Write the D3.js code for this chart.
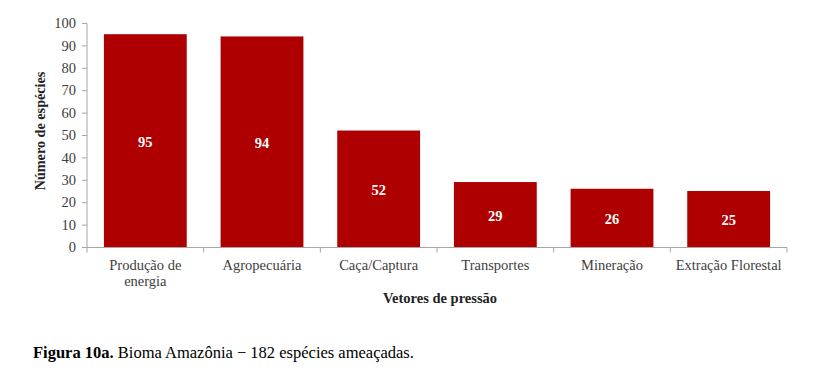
<!DOCTYPE html>
<html><head><meta charset="utf-8">
<script src="https://cdn.jsdelivr.net/npm/d3@7"></script>
<style>body{margin:0;background:#fff;}svg{display:block;} svg text{font-family:"Liberation Serif","Times New Roman","DejaVu Serif",serif;}</style>
</head><body>
<script>
const categories = ["Produção de energia","Agropecuária","Caça/Captura","Transportes","Mineração","Extração Florestal"];
const categoryLines = [["Produção de","energia"],["Agropecuária"],["Caça/Captura"],["Transportes"],["Mineração"],["Extração Florestal"]];
const values = [95,94,52,29,26,25];
const yTicks = [0,10,20,30,40,50,60,70,80,90,100];
const yTitle = "Número de espécies";
const xTitle = "Vetores de pressão";

const W=821,H=377;
const svg=d3.select("body").append("svg").attr("width",W).attr("height",H);
const x=d3.scaleBand().domain(categories).range([87,787]).paddingInner(0.29).paddingOuter(0.145);
const y=d3.scaleLinear().domain([0,100]).range([247,23]);
const axisCol="#a6a6a6";

// y axis
const ya=svg.append("g").attr("transform","translate(87,0)")
 .call(d3.axisLeft(y).tickValues(yTicks).tickSize(5).tickPadding(6));
ya.attr("font-family",null);
ya.select(".domain").attr("stroke",axisCol).attr("d","M-5,23.5H0V247.5H-5");
ya.selectAll(".tick line").attr("stroke",axisCol);
ya.selectAll(".tick text").attr("font-size",14.5).attr("fill","#404040");

// bars
svg.append("g").selectAll("rect").data(values).join("rect")
 .attr("x",(d,i)=>x(categories[i])).attr("width",x.bandwidth())
 .attr("y",d=>y(d)).attr("height",d=>y(0)-y(d)).attr("fill","#ae0000");
svg.append("g").selectAll("text").data(values).join("text")
 .attr("x",(d,i)=>x(categories[i])+x.bandwidth()/2)
 .attr("y",d=>(y(d)+y(0))/2+1).attr("dy","0.35em")
 .attr("text-anchor","middle").attr("font-weight","bold")
 .attr("font-size",14.5).attr("fill","#fff").text(d=>d);

// x axis
const xg=svg.append("g");
xg.append("line").attr("x1",87).attr("x2",787).attr("y1",247.5).attr("y2",247.5).attr("stroke",axisCol);
xg.selectAll("line.t").data(d3.range(categories.length+1)).join("line").attr("class","t")
 .attr("x1",i=>87+i*(700/categories.length)).attr("x2",i=>87+i*(700/categories.length))
 .attr("y1",247.5).attr("y2",252.5).attr("stroke",axisCol);
const lab=xg.selectAll("text").data(categories).join("text")
 .attr("x",d=>x(d)+x.bandwidth()/2).attr("y",270)
 .attr("text-anchor","middle").attr("font-size",14.5).attr("fill","#404040");
lab.each(function(d,i){
  const t=d3.select(this);
  categoryLines[i].forEach((l,j)=>t.append("tspan").attr("x",x(d)+x.bandwidth()/2).attr("dy",j?16:0).text(l));
});

// titles
svg.append("text").attr("x",440).attr("y",303).attr("text-anchor","middle")
 .attr("font-weight","bold").attr("font-size",14.5).attr("fill","#222").text(xTitle);
svg.append("text").attr("transform","translate(45,131) rotate(-90)").attr("text-anchor","middle")
 .attr("font-weight","bold").attr("font-size",14.2).attr("fill","#222").text(yTitle);

// caption
const cap=svg.append("text").attr("x",33).attr("y",358).attr("font-size",16.5).attr("fill","#000");
cap.append("tspan").attr("font-weight","bold").text("Figura 10a.");
cap.append("tspan").text(" Bioma Amazônia \u2212 182 espécies ameaçadas.");
</script>
</body></html>
